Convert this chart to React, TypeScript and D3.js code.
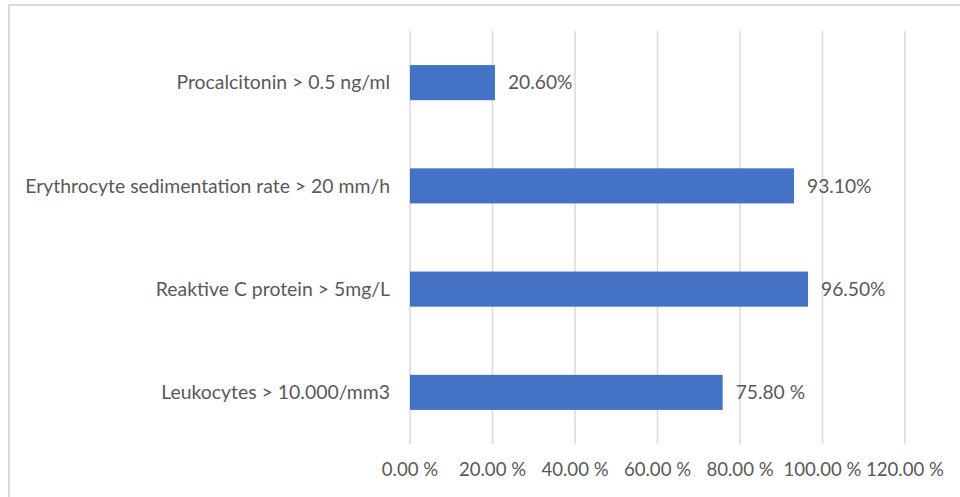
import React from "react";
import * as d3 from "d3";

const categories = [
  "Procalcitonin > 0.5 ng/ml",
  "Erythrocyte sedimentation rate > 20 mm/h",
  "Reaktive C protein > 5mg/L",
  "Leukocytes > 10.000/mm3",
];
const values = [20.6, 93.1, 96.5, 75.8];
const valueLabels = ["20.60%", "93.10%", "96.50%", "75.80 %"];
const ticks = [0, 20, 40, 60, 80, 100, 120];
const tickLabels = ["0.00 %", "20.00 %", "40.00 %", "60.00 %", "80.00 %", "100.00 %", "120.00 %"];

export default function App() {
  const W = 960, H = 497;
  const left = 410, right = 905, top = 31, bottom = 444;
  const x = d3.scaleLinear().domain([0, 120]).range([left, right]);
  const y = d3.scaleBand<string>().domain(categories).range([top, bottom]).paddingInner(0.66).paddingOuter(0.33);
  const font = "Lato, 'Open Sans', sans-serif";
  const textColor = "#595959";
  return (
    <svg width={W} height={H} style={{ position: "absolute", left: 0, top: 0, background: "#fff" }} fontFamily={font}>
      <rect x={0} y={0} width={W} height={H} fill="#fff" />
      <line x1={9} y1={4} x2={9} y2={H} stroke="#d9d9d9" strokeWidth={2} />
      <line x1={8} y1={5} x2={W} y2={5} stroke="#d9d9d9" strokeWidth={2} />
      {ticks.map((t) => (
        <line key={t} x1={x(t)} x2={x(t)} y1={top} y2={bottom} stroke="#d9d9d9" strokeWidth={1.5} />
      ))}
      {categories.map((c, i) => (
        <g key={c}>
          <rect x={x(0)} y={y(c)!} width={x(values[i]) - x(0)} height={y.bandwidth()} fill="#4472c4" />
          <text x={x(values[i]) + 13} y={y(c)! + y.bandwidth() / 2} dy="0.35em" fontSize={19.2} fill={textColor}>
            {valueLabels[i]}
          </text>
          <text x={left - 20} y={y(c)! + y.bandwidth() / 2} dy="0.35em" textAnchor="end" fontSize={19.4} fill={textColor}>
            {c}
          </text>
        </g>
      ))}
      {ticks.map((t, i) => (
        <text key={t} x={x(t)} y={469} dy="0.35em" textAnchor="middle" fontSize={18.6} fill={textColor}>
          {tickLabels[i]}
        </text>
      ))}
    </svg>
  );
}
